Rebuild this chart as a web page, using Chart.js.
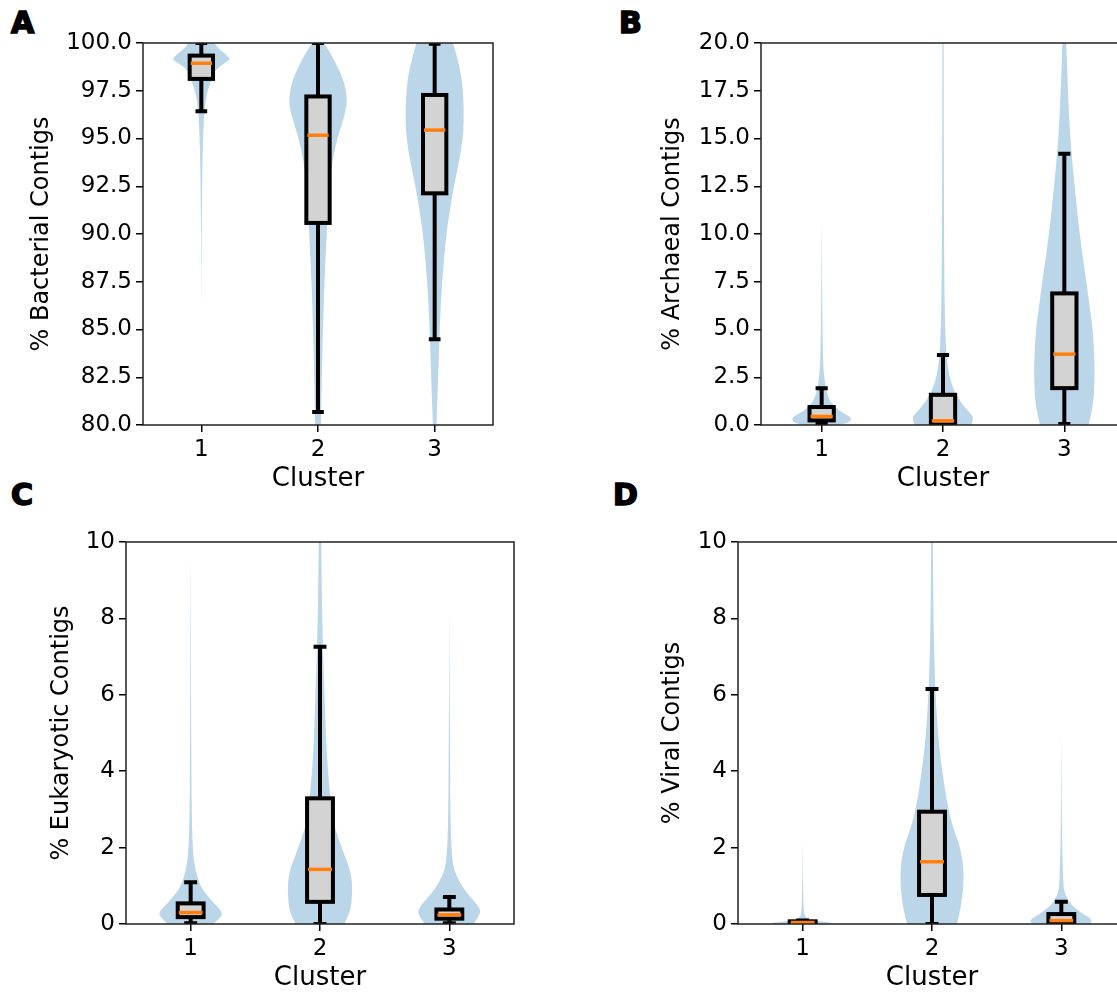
<!DOCTYPE html>
<html>
<head>
<meta charset="utf-8">
<script src="https://cdn.jsdelivr.net/npm/chart.js@4.4.1/dist/chart.umd.min.js"></script>
<style>
  body { margin: 0; background: #fff; width: 1117px; height: 995px; overflow: hidden; position: relative; }
  canvas { position: absolute; }
  .letter { position: absolute; font: bold 30px 'DejaVu Sans'; line-height: 1; color: #000; -webkit-text-stroke: 1.6px #000; }
</style>
</head>
<body>
<div class="letter" style="left:11px;top:8px">A</div>
<div class="letter" style="left:619px;top:8px">B</div>
<div class="letter" style="left:11px;top:480px">C</div>
<div class="letter" style="left:613px;top:480px">D</div>
<canvas id="chartA"></canvas>
<canvas id="chartB"></canvas>
<canvas id="chartC"></canvas>
<canvas id="chartD"></canvas>
<script>
const clusters = [1, 2, 3];

// box stats per cluster: [lower whisker, q1, median, q3, upper whisker]
const bacterialBox = [[96.43, 98.12, 98.94, 99.34, 100], [80.68, 90.58, 95.17, 97.2, 100], [84.49, 92.13, 95.44, 97.28, 99.96]];
const archaealBox = [[0.05, 0.24, 0.45, 0.94, 1.93], [0, 0.03, 0.22, 1.58, 3.67], [0.05, 1.93, 3.71, 6.89, 14.2]];
const eukaryoticBox = [[0.02, 0.18, 0.3, 0.54, 1.09], [0, 0.58, 1.43, 3.29, 7.26], [0.02, 0.14, 0.24, 0.38, 0.71]];
const viralBox = [[0, 0.01, 0.04, 0.07, 0.09], [0, 0.76, 1.63, 2.94, 6.15], [0, 0, 0.09, 0.26, 0.58]];

// violin outlines per cluster: [value, relative density]
const bacterialViolin = [
  [[86.2, 0], [88, 0.006], [90, 0.012], [92, 0.022], [94, 0.04], [95.5, 0.07], [96.5, 0.11], [97, 0.15], [97.5, 0.22], [98, 0.33], [98.4, 0.42], [98.7, 0.56], [98.95, 0.8], [99.13, 1.0], [99.35, 0.88], [99.6, 0.68], [99.86, 0.5], [100, 0.45]],
  [[78, 0.06], [80, 0.1], [82.5, 0.13], [85, 0.17], [87.5, 0.22], [90, 0.3], [91.25, 0.34], [92.5, 0.4], [93.75, 0.48], [95, 0.66], [96, 0.87], [96.8, 1.0], [97.5, 0.96], [98.2, 0.84], [98.75, 0.67], [99.5, 0.42], [100, 0.2]],
  [[78, 0.03], [80, 0.06], [82.5, 0.12], [85, 0.17], [87.5, 0.25], [90, 0.4], [91.25, 0.52], [92.5, 0.66], [93.75, 0.83], [95, 0.97], [96, 1.0], [97.5, 0.98], [98.75, 0.86], [100, 0.63]]
];
const archaealViolin = [
  [[0, 0.55], [0.1, 0.9], [0.37, 1.0], [0.6, 0.75], [0.8, 0.55], [1.05, 0.38], [1.3, 0.26], [1.7, 0.17], [2.2, 0.11], [3, 0.05], [5, 0.025], [8, 0.01], [10.9, 0]],
  [[0, 0.93], [0.2, 0.98], [0.45, 1.0], [0.75, 0.82], [1.25, 0.56], [1.75, 0.38], [2.5, 0.21], [3.5, 0.12], [5, 0.07], [7.5, 0.045], [10, 0.035], [15, 0.025], [20, 0.02], [21, 0.02]],
  [[0, 0.8], [1, 0.95], [2, 0.99], [3.24, 1.0], [5, 0.94], [6, 0.85], [7.5, 0.73], [10, 0.5], [12.5, 0.34], [15, 0.19], [17.5, 0.12], [20, 0.06], [21, 0.05]]
];
const eukaryoticViolin = [
  [[0, 0.7], [0.15, 0.9], [0.28, 1.0], [0.5, 0.78], [0.75, 0.5], [1.0, 0.29], [1.5, 0.12], [2, 0.06], [3, 0.03], [5, 0.015], [8, 0.008], [9.6, 0]],
  [[0, 0.75], [0.3, 0.94], [0.8, 1.0], [1.2, 0.98], [1.5, 0.9], [2, 0.67], [2.5, 0.46], [3, 0.36], [4, 0.24], [5, 0.18], [6, 0.14], [7, 0.1], [8, 0.07], [9, 0.05], [10, 0.04], [10.5, 0.04]],
  [[0, 0.75], [0.28, 1.0], [0.5, 0.88], [0.75, 0.6], [1.0, 0.38], [1.25, 0.23], [1.5, 0.12], [2, 0.06], [3, 0.03], [5, 0.015], [8.3, 0]]
];
const viralViolin = [
  [[0, 0.9], [0.03, 1.0], [0.08, 0.4], [0.15, 0.1], [0.3, 0.03], [1, 0.012], [2.25, 0]],
  [[0, 0.77], [0.5, 0.92], [1.33, 1.0], [2, 0.88], [2.5, 0.66], [3, 0.5], [4, 0.31], [5, 0.18], [6, 0.11], [7, 0.07], [8, 0.045], [10, 0.025], [10.5, 0.025]],
  [[0, 0.9], [0.1, 0.99], [0.25, 0.69], [0.5, 0.3], [0.75, 0.12], [1, 0.06], [2, 0.025], [3, 0.012], [5, 0]]
];

const bacterialTicks = [80, 82.5, 85, 87.5, 90, 92.5, 95, 97.5, 100];
const archaealTicks = [0, 2.5, 5, 7.5, 10, 12.5, 15, 17.5, 20];
const smallTicks = [0, 2, 4, 6, 8, 10];

const violinColor = 'rgba(31, 119, 180, 0.3)';
const font = 'DejaVu Sans';

// smooth outline through the points
function traceSide(ctx, pts, first) {
  if (first) ctx.moveTo(pts[0][0], pts[0][1]); else ctx.lineTo(pts[0][0], pts[0][1]);
  for (let i = 1; i < pts.length - 1; i++) {
    const mx = (pts[i][0] + pts[i + 1][0]) / 2, my = (pts[i][1] + pts[i + 1][1]) / 2;
    ctx.quadraticCurveTo(pts[i][0], pts[i][1], mx, my);
  }
  const last = pts[pts.length - 1];
  ctx.lineTo(last[0], last[1]);
}

const violinBoxPlugin = {
  id: 'violinBox',
  beforeDatasetsDraw(chart, args, opts) {
    const {ctx, chartArea: a, scales: {x, y}} = chart;
    ctx.save();
    ctx.beginPath();
    ctx.rect(a.left, a.top, a.width, a.height);
    ctx.clip();

    opts.violins.forEach((prof, i) => {
      const c = clusters[i];
      const right = prof.map(([v, d]) => [x.getPixelForValue(c + d * 0.25), y.getPixelForValue(v)]);
      const left = prof.map(([v, d]) => [x.getPixelForValue(c - d * 0.25), y.getPixelForValue(v)]).reverse();
      ctx.beginPath();
      traceSide(ctx, right, true);
      traceSide(ctx, left, false);
      ctx.closePath();
      ctx.fillStyle = violinColor;
      ctx.fill();
    });

    ctx.lineWidth = 4;
    opts.boxes.forEach(([lo, q1, med, q3, hi], i) => {
      const c = clusters[i];
      const xc = x.getPixelForValue(c);
      const bx0 = x.getPixelForValue(c - 0.1), bx1 = x.getPixelForValue(c + 0.1);
      const cx0 = x.getPixelForValue(c - 0.05), cx1 = x.getPixelForValue(c + 0.05);
      ctx.strokeStyle = '#000';
      ctx.beginPath();
      ctx.moveTo(xc, y.getPixelForValue(q3)); ctx.lineTo(xc, y.getPixelForValue(hi));
      ctx.moveTo(xc, y.getPixelForValue(q1)); ctx.lineTo(xc, y.getPixelForValue(lo));
      ctx.moveTo(cx0, y.getPixelForValue(hi)); ctx.lineTo(cx1, y.getPixelForValue(hi));
      ctx.moveTo(cx0, y.getPixelForValue(lo)); ctx.lineTo(cx1, y.getPixelForValue(lo));
      ctx.stroke();
      const top = y.getPixelForValue(q3), bot = y.getPixelForValue(q1);
      ctx.fillStyle = '#d3d3d3';
      ctx.fillRect(bx0, top, bx1 - bx0, bot - top);
      ctx.strokeRect(bx0, top, bx1 - bx0, bot - top);
      ctx.strokeStyle = '#ff7f0e';
      ctx.lineWidth = 3.5;
      ctx.beginPath();
      ctx.moveTo(bx0 + 1, y.getPixelForValue(med)); ctx.lineTo(bx1 - 1, y.getPixelForValue(med));
      ctx.stroke();
      ctx.lineWidth = 4;
    });
    ctx.restore();
  },
  afterDraw(chart) {
    const {ctx, chartArea: a} = chart;
    ctx.save();
    ctx.strokeStyle = '#222';
    ctx.lineWidth = 1.5;
    ctx.strokeRect(a.left, a.top, a.width, a.height);
    ctx.restore();
  }
};

function makePanel(id, p) {
  const canvas = document.getElementById(id);
  const L = p.canvasLeft, T = p.plot.t - 22;
  const W = p.plot.r + 20 - L, H = p.xlabY + 26 - T;
  canvas.width = W; canvas.height = H;
  canvas.style.left = L + 'px'; canvas.style.top = T + 'px';
  const xTitleSize = 26, yTitleSize = 24;

  new Chart(canvas, {
    type: 'scatter',
    data: { datasets: [] },
    plugins: [violinBoxPlugin],
    options: {
      responsive: false,
      animation: false,
      events: [],
      layout: { padding: { left: 0, top: p.plot.t - T, right: L + W - p.plot.r, bottom: 0 } },
      plugins: {
        legend: { display: false },
        tooltip: { enabled: false },
        violinBox: { violins: p.violins, boxes: p.boxes }
      },
      scales: {
        x: {
          type: 'linear',
          min: 0.5, max: 3.5,
          afterBuildTicks: (s) => { s.ticks = clusters.map(v => ({ value: v })); },
          afterFit: (s) => { s.height = T + H - p.plot.b; },
          ticks: { color: '#000', padding: 4, font: { family: font, size: 23 }, callback: (v) => String(v) },
          grid: { drawOnChartArea: false, drawTicks: true, tickLength: 7, color: '#000', lineWidth: 1.5 },
          border: { display: false },
          title: {
            display: true, text: 'Cluster', color: '#000',
            font: { family: font, size: xTitleSize, lineHeight: 1 },
            padding: { top: 0, bottom: T + H - p.xlabY - xTitleSize / 2 }
          }
        },
        y: {
          type: 'linear',
          min: p.ticks[0], max: p.ticks[p.ticks.length - 1],
          afterBuildTicks: (s) => { s.ticks = p.ticks.map(v => ({ value: v })); },
          afterFit: (s) => { s.width = p.plot.l - L; },
          ticks: { color: '#000', padding: 4, font: { family: font, size: 23 }, callback: (v) => v.toFixed(p.decimals) },
          grid: { drawOnChartArea: false, drawTicks: true, tickLength: 7, color: '#000', lineWidth: 1.5 },
          border: { display: false },
          title: {
            display: true, text: p.label, color: '#000',
            font: { family: font, size: yTitleSize, lineHeight: 1 },
            padding: { top: p.ylabX - L - yTitleSize / 2, bottom: 0 }
          }
        }
      }
    }
  });
}

makePanel('chartA', { canvasLeft: 0, plot: { l: 143, r: 493, t: 43, b: 425 }, xlabY: 479, ylabX: 42,
  label: '% Bacterial Contigs', ticks: bacterialTicks, decimals: 1, boxes: bacterialBox, violins: bacterialViolin });
makePanel('chartB', { canvasLeft: 560, plot: { l: 761, r: 1125, t: 43, b: 425 }, xlabY: 479, ylabX: 673,
  label: '% Archaeal Contigs', ticks: archaealTicks, decimals: 1, boxes: archaealBox, violins: archaealViolin });
makePanel('chartC', { canvasLeft: 0, plot: { l: 126, r: 514, t: 542, b: 924 }, xlabY: 978, ylabX: 62,
  label: '% Eukaryotic Contigs', ticks: smallTicks, decimals: 0, boxes: eukaryoticBox, violins: eukaryoticViolin });
makePanel('chartD', { canvasLeft: 560, plot: { l: 738, r: 1126, t: 542, b: 924 }, xlabY: 978, ylabX: 673,
  label: '% Viral Contigs', ticks: smallTicks, decimals: 0, boxes: viralBox, violins: viralViolin });
</script>
</body>
</html>
